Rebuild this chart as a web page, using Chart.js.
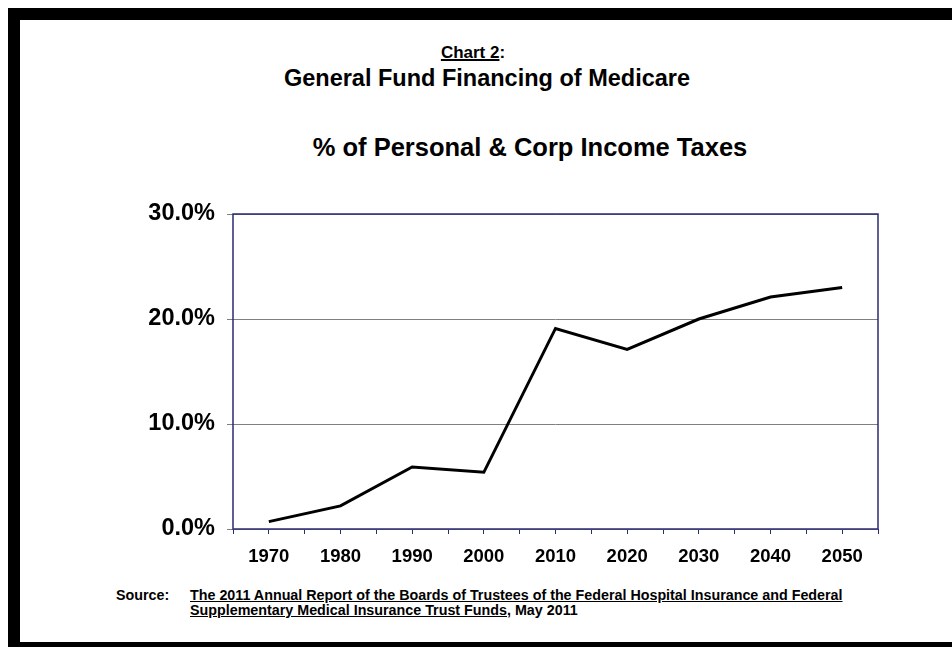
<!DOCTYPE html>
<html>
<head>
<meta charset="utf-8">
<title>General Fund Financing of Medicare</title>
<script src="https://cdn.jsdelivr.net/npm/chart.js@4.4.0/dist/chart.umd.min.js"></script>
<style>
  html, body {
    margin: 0;
    width: 952px;
    height: 647px;
    overflow: hidden;
    background: #fff;
  }
  body {
    position: relative;
    font-family: "Liberation Sans", Arial, sans-serif;
    color: #000;
  }
  .frame {
    position: absolute;
    left: 8px;
    top: 8px;
    width: 944px;
    height: 646px;
    border-top: 12px solid #000;
    border-left: 12px solid #000;
    border-bottom: 12px solid #000;
    box-sizing: border-box;
  }
  .txt {
    position: absolute;
    font-weight: bold;
    white-space: nowrap;
    line-height: 1;
    transform: translateX(-50%);
  }
  #chartNo { left: 473px; top: 44px; font-size: 17px; }
  #chartNo u { text-decoration-thickness: 1.5px; }
  #subTitle { left: 487px; top: 67px; font-size: 23.5px; }
  #mainTitle { left: 530px; top: 135px; font-size: 25.5px; }
  .source {
    position: absolute;
    font-family: "Liberation Sans Narrow", "Arial Narrow", sans-serif;
    font-weight: bold;
    font-size: 14.3px;
    line-height: 15px;
    white-space: nowrap;
  }
  #srcLabel { left: 116px; top: 588px; }
  #srcText { left: 190px; top: 588px; }
  canvas { position: absolute; left: 0; top: 0; }
</style>
</head>
<body>
<div class="frame"></div>
<div class="txt" id="chartNo"><u>Chart 2</u>:</div>
<div class="txt" id="subTitle">General Fund Financing of Medicare</div>
<div class="txt" id="mainTitle">% of Personal &amp; Corp Income Taxes</div>
<div class="source" id="srcLabel">Source:</div>
<div class="source" id="srcText"><u>The 2011 Annual Report of the Boards of Trustees of the Federal Hospital Insurance and Federal</u><br><u>Supplementary Medical Insurance Trust Funds</u>, May 2011</div>
<canvas id="medicareChart" width="952" height="647"></canvas>

<script>
// General fund share of personal & corporate income taxes, by decade
const years = [1970, 1980, 1990, 2000, 2010, 2020, 2030, 2040, 2050];
const shareOfIncomeTaxes = [0.7, 2.2, 5.9, 5.4, 19.1, 17.1, 20.0, 22.1, 23.0];
const yTicks = [0, 10, 20, 30];

const fontFamily = '"Liberation Sans", Arial, sans-serif';
const axisNavy = '#2b2b73';

// tick marks sit on every year label and halfway between them
const xTickMarks = [years[0] - 5];
years.forEach(y => xTickMarks.push(y, y + 5));

// box around the plot area
const plotFrame = {
  id: 'plotFrame',
  afterDraw(chart) {
    const { ctx, chartArea: a } = chart;
    ctx.save();
    ctx.strokeStyle = axisNavy;
    ctx.lineWidth = 1.5;
    ctx.strokeRect(a.left, a.top, a.right - a.left, a.bottom - a.top);
    ctx.restore();
  }
};

const ctx = document.getElementById('medicareChart').getContext('2d');
new Chart(ctx, {
  type: 'line',
  data: {
    datasets: [{
      data: years.map((yr, i) => ({ x: yr, y: shareOfIncomeTaxes[i] })),
      borderColor: '#000',
      borderWidth: 3,
      borderJoinStyle: 'miter',
      pointRadius: 0,
      tension: 0,
      fill: false
    }]
  },
  options: {
    responsive: false,
    animation: false,
    layout: { padding: { left: 0, top: 214, right: 74, bottom: 0 } },
    plugins: {
      legend: { display: false },
      tooltip: { enabled: false }
    },
    scales: {
      x: {
        type: 'linear',
        min: xTickMarks[0],
        max: xTickMarks[xTickMarks.length - 1],
        afterBuildTicks: s => { s.ticks = xTickMarks.map(v => ({ value: v })); },
        afterFit: s => { s.height = 118; },
        ticks: {
          autoSkip: false,
          maxRotation: 0,
          padding: 12,
          color: '#000',
          font: { family: fontFamily, size: 18.5, weight: 'bold' },
          callback: v => years.includes(v) ? String(v) : ''
        },
        grid: { drawOnChartArea: false, tickLength: 5, tickColor: axisNavy, lineWidth: 1 },
        border: { display: false }
      },
      y: {
        min: yTicks[0],
        max: yTicks[yTicks.length - 1],
        afterBuildTicks: s => { s.ticks = yTicks.map(v => ({ value: v })); },
        afterFit: s => { s.width = 233; },
        ticks: {
          padding: 12,
          color: '#000',
          font: { family: fontFamily, size: 23.5, weight: 'bold' },
          callback: v => v.toFixed(1) + '%'
        },
        grid: { color: '#808080', lineWidth: 1, tickLength: 6, tickColor: '#808080' },
        border: { display: false }
      }
    }
  },
  plugins: [plotFrame]
});
</script>
</body>
</html>
